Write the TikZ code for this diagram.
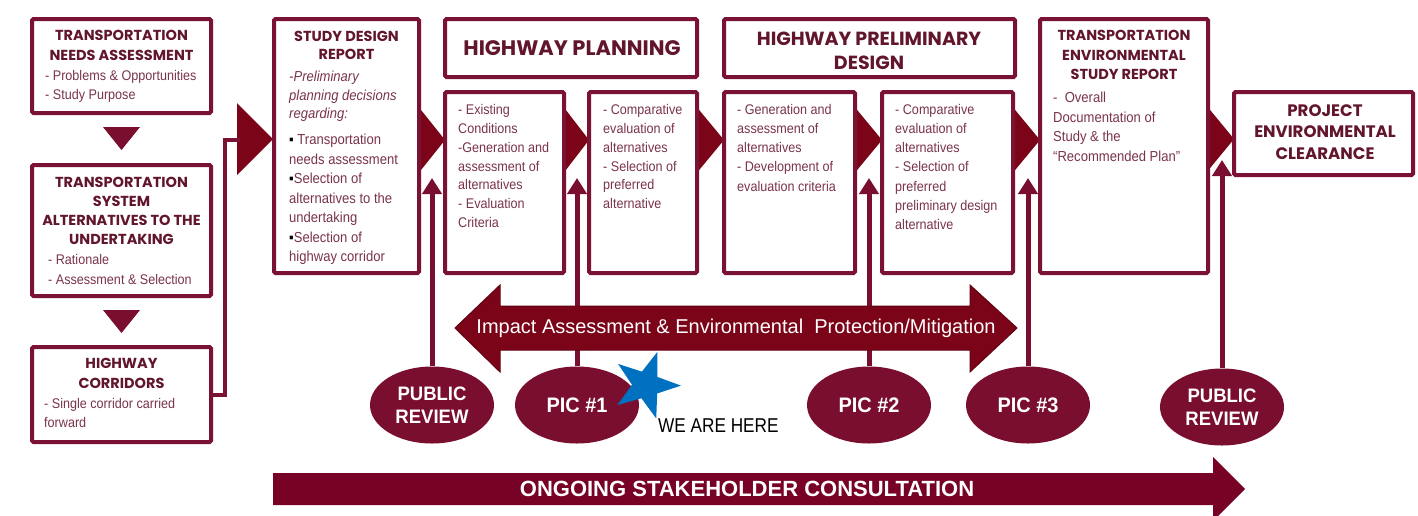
\documentclass[tikz,border=0pt]{standalone}
\usepackage{fontspec}
\setmainfont{Liberation Sans}
\newfontfamily\hfont{Poppins}
\newfontfamily\bodyfont{Liberation Sans}[FakeStretch=0.9]
\newfontfamily\efont{Liberation Sans}[FakeStretch=0.95]
\newfontfamily\narrowfont{Liberation Sans}[FakeStretch=0.86]
\usetikzlibrary{shapes.geometric,arrows.meta}
\definecolor{boxc}{RGB}{122,18,52}
\definecolor{chev}{RGB}{124,4,24}
\definecolor{ellc}{RGB}{122,14,46}
\definecolor{headc}{RGB}{98,22,44}
\definecolor{bodyc}{RGB}{122,52,74}
\definecolor{starc}{RGB}{0,112,192}
\definecolor{bandc}{RGB}{120,2,38}
\begin{document}
\begin{tikzpicture}[x=1pt,y=-1pt,
  box/.style={draw=boxc, line width=4pt, fill=white, rounded corners=1.5pt, inner sep=0pt, anchor=north west},
  chevron/.style={fill=chev},
  head/.style={text=headc, align=center, inner sep=0pt, anchor=north},
  body/.style={text=bodyc, align=left, inner sep=0pt, anchor=north west},
  ell/.style={ellipse, fill=ellc, minimum width=124pt, minimum height=77pt, inner sep=0pt, text=white, align=center},
  uparrow/.style={draw=ellc, line width=5pt, -{Triangle[width=19pt,length=16pt]}},
  conn/.style={draw=boxc, line width=4pt},
  tri/.style={fill=ellc}]
\useasboundingbox (0,0) rectangle (1418,515);
\fill[white] (0,0) rectangle (1418,515);

% chevrons
\fill[chevron] (237,103) -- (273,139) -- (237,175) -- cycle;
\fill[chevron] (417,105) -- (445,140) -- (417,175) -- cycle;
\fill[chevron] (562,105) -- (589,140) -- (562,175) -- cycle;
\fill[chevron] (695,105) -- (724,140) -- (695,175) -- cycle;
\fill[chevron] (853,105) -- (882,140) -- (853,175) -- cycle;
\fill[chevron] (1011,105) -- (1040,140) -- (1011,175) -- cycle;
\fill[chevron] (1206,105) -- (1234,139) -- (1206,173) -- cycle;

% left column
\node[box, minimum width=179pt, minimum height=94pt] (b1) at (30,17) {};
\node[head, font=\hfont\bfseries\fontsize{14.5}{20}\selectfont] (b1h) at (121.5,30) {TRANSPORTATION\\NEEDS ASSESSMENT};
\node[body, font=\bodyfont\fontsize{14}{19}\selectfont] (b1t) at (45,70) {- Problems \& Opportunities\\- Study Purpose};

\node[box, minimum width=179pt, minimum height=131pt] (b2) at (30,163) {};
\node[head, font=\hfont\bfseries\fontsize{14.5}{19}\selectfont] (b2h) at (121.5,177) {TRANSPORTATION\\SYSTEM\\ALTERNATIVES TO THE\\UNDERTAKING};
\node[body, font=\bodyfont\fontsize{14}{20}\selectfont] (b2t) at (48,254) {- Rationale\\- Assessment \& Selection};

\node[box, minimum width=179pt, minimum height=95pt] (b3) at (30,345) {};
\node[head, font=\hfont\bfseries\fontsize{14.5}{20}\selectfont] (b3h) at (121.5,358) {HIGHWAY\\CORRIDORS};
\node[body, font=\bodyfont\fontsize{14}{19}\selectfont] (b3t) at (44,398) {- Single corridor carried\\forward};

\fill[tri] (103,127) -- (140,127) -- (121.5,150) -- cycle;
\fill[tri] (103,310) -- (140,310) -- (121.5,333) -- cycle;

\coordinate (lc) at (225,140);
\coordinate (le) at (240,140);
\draw[conn] (b3.east) -| (lc) -- (le);

% study design report
\node[box, minimum width=145pt, minimum height=254pt] (sdr) at (272,17) {};
\node[head, font=\hfont\bfseries\fontsize{14.5}{18}\selectfont] (sdrh) at (346.5,31) {STUDY DESIGN\\REPORT};
\node[body, font=\bodyfont\itshape\fontsize{14.5}{18.5}\selectfont] (sdri) at (289,71) {-Preliminary\\planning decisions\\regarding:};
\node[body, font=\bodyfont\fontsize{14.5}{19.5}\selectfont] (sdrt) at (289,134) {{\color{black}▪} Transportation\\needs assessment\\{\color{black}▪}Selection of\\alternatives to the\\undertaking\\{\color{black}▪}Selection of\\highway corridor};

% highway planning
\node[box, minimum width=252pt, minimum height=58pt] (hpT) at (443,17) {};
\node[text=headc, inner sep=0pt, font=\hfont\bfseries\fontsize{21}{25}\selectfont] (hpTt) at (572,48) {HIGHWAY PLANNING};
\node[box, minimum width=119pt, minimum height=181pt] (hpA) at (443,90) {};
\node[body, font=\bodyfont\fontsize{14}{18.9}\selectfont] (hpAt) at (458,104) {- Existing\\Conditions\\-Generation and\\assessment of\\alternatives\\- Evaluation\\Criteria};
\node[box, minimum width=108pt, minimum height=181pt] (hpB) at (587,90) {};
\node[body, font=\bodyfont\fontsize{14}{18.9}\selectfont] (hpBt) at (603,104) {- Comparative\\evaluation of\\alternatives\\- Selection of\\preferred\\alternative};

% highway preliminary design
\node[box, minimum width=291pt, minimum height=58pt] (hpdT) at (722,17) {};
\node[head, font=\hfont\bfseries\fontsize{19}{23.5}\selectfont] (hpdTt) at (869,32) {HIGHWAY PRELIMINARY\\DESIGN};
\node[box, minimum width=131pt, minimum height=181pt] (hpdA) at (722,90) {};
\node[body, font=\bodyfont\fontsize{14}{19.2}\selectfont] (hpdAt) at (737,104) {- Generation and\\assessment of\\alternatives\\- Development of\\evaluation criteria};
\node[box, minimum width=131pt, minimum height=181pt] (hpdB) at (880,90) {};
\node[body, font=\bodyfont\fontsize{14}{19.2}\selectfont] (hpdBt) at (895,104) {- Comparative\\evaluation of\\alternatives\\- Selection of\\preferred\\preliminary design\\alternative};

% TESR
\node[box, minimum width=168pt, minimum height=254pt] (tesr) at (1038,17) {};
\node[head, font=\hfont\bfseries\fontsize{14.5}{19.5}\selectfont] (tesrh) at (1124,30) {TRANSPORTATION\\ENVIRONMENTAL\\STUDY REPORT};
\node[body, font=\bodyfont\fontsize{14.5}{19.5}\selectfont] (tesrt) at (1053,92) {-\ \ Overall\\Documentation of\\Study \& the\\“Recommended Plan”};

% PEC
\node[box, minimum width=179pt, minimum height=83pt] (pec) at (1232,90) {};
\node[text=headc, align=center, inner sep=0pt, font=\hfont\bfseries\fontsize{16.6}{21.5}\selectfont] (pect) at (1325,132) {PROJECT\\ENVIRONMENTAL\\CLEARANCE};

% ellipses
\node[ell, font=\efont\bfseries\fontsize{19.5}{23}\selectfont] (pr1) at (432,405) {PUBLIC\\REVIEW};
\node[ell, font=\efont\bfseries\fontsize{21}{24}\selectfont] (pic1) at (577,405) {PIC \#1};
\node[ell, font=\efont\bfseries\fontsize{21}{24}\selectfont] (pic2) at (869,405) {PIC \#2};
\node[ell, font=\efont\bfseries\fontsize{21}{24}\selectfont] (pic3) at (1028,405) {PIC \#3};
\node[ell, font=\efont\bfseries\fontsize{19.5}{23}\selectfont] (pr2) at (1222,407) {PUBLIC\\REVIEW};

\coordinate (t1) at (432,178);
\coordinate (t2) at (577,178);
\coordinate (t3) at (869,178);
\coordinate (t4) at (1028,178);
\coordinate (t5) at (1222,160);
\draw[uparrow] (pr1) -- (t1);
\draw[uparrow] (pic1) -- (t2);
\draw[uparrow] (pic2) -- (t3);
\draw[uparrow] (pic3) -- (t4);
\draw[uparrow] (pr2) -- (t5);

% impact double arrow
\filldraw[fill=chev, draw=chev!80!black, line width=1pt] (455,328) -- (500,285) -- (500,306) -- (970,306) -- (970,285) -- (1017,328) -- (970,372) -- (970,350) -- (500,350) -- (500,372) -- cycle;
\node[text=white, inner sep=0pt, font=\fontsize{20}{24}\selectfont] (imp) at (736,328) {Impact Assessment \& Environmental\ \ Protection/Mitigation};

% ongoing stakeholder arrow
\fill[bandc] (273,473) -- (1213,473) -- (1213,457) -- (1245,489) -- (1213,521) -- (1213,505) -- (273,505) -- cycle;
\node[text=white, inner sep=0pt, font=\bfseries\fontsize{22}{26}\selectfont] (osc) at (747,489) {ONGOING STAKEHOLDER CONSULTATION};

% star
\node[star, star points=5, star point ratio=2.5, fill=starc, minimum size=70pt, inner sep=0pt, rotate=-19] (star) at (646,385) {};
\node[anchor=west, inner sep=0pt, text=black, font=\narrowfont\fontsize{20}{23}\selectfont] (here) at (658,426) {WE ARE HERE};
\end{tikzpicture}
\end{document}
